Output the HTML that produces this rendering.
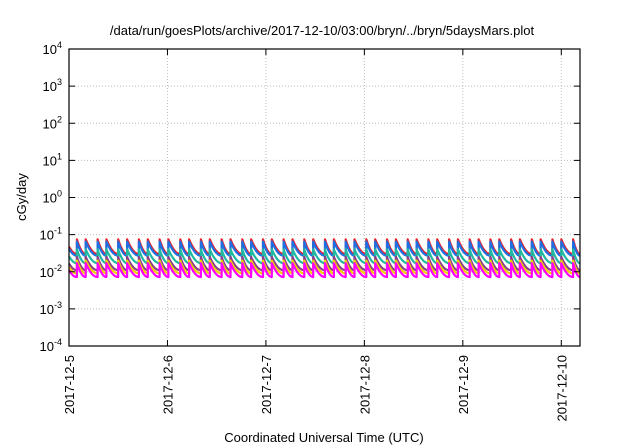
<!DOCTYPE html>
<html><head><meta charset="utf-8"><style>
body{margin:0;background:#fff;}
svg{display:block;font-family:"Liberation Sans",sans-serif;}
</style></head><body>
<svg id="chart" width="640" height="448" viewBox="0 0 640 448" xmlns="http://www.w3.org/2000/svg">
<text x="322" y="35" font-size="13" text-anchor="middle">/data/run/goesPlots/archive/2017-12-10/03:00/bryn/../bryn/5daysMars.plot</text>
<g id="grid"></g>
<g id="series"></g>
<rect x="69" y="49" width="511" height="297" fill="none" stroke="#000" stroke-width="1.2"/>
<g id="axes"></g>
<text transform="translate(26,197) rotate(-90)" font-size="13" text-anchor="middle">cGy/day</text>
<text x="324" y="442" font-size="13" text-anchor="middle">Coordinated Universal Time (UTC)</text>
</svg>
<script>
const xTickLabels=["2017-12-5","2017-12-6","2017-12-7","2017-12-8","2017-12-9","2017-12-10"];
const xTickDays=[0,1,2,3,4,5];
const yTickExps=[-4,-3,-2,-1,0,1,2,3,4];
const peakTimes=[0.08,0.17,0.29,0.38,0.50,0.59,0.71,0.80,0.92,1.01,1.13,1.22,1.34,1.43,1.55,1.64,1.76,1.85,1.97,2.06,2.18,2.27,2.39,2.48,2.60,2.69,2.81,2.90,3.02,3.11,3.23,3.32,3.44,3.53,3.65,3.74,3.86,3.95,4.07,4.16,4.28,4.37,4.49,4.58,4.70,4.79,4.91,5.00,5.12];
const seriesNames=["red","blue","teal","purple","yellow","magenta"];
const seriesColors=["#e8202a","#1f6fe0","#20b8a0","#8a3f8a","#f0d000","#ff00ff"];
const seriesPeaks=[0.075,0.065,0.04,0.025,0.02,0.017];
const seriesTroughs=[0.03,0.027,0.017,0.011,0.009,0.0072];
const X0=69,X1=580,Y0=346,Y1=49,DAYS=5.19,EMIN=-4,EMAX=4;
const xs=d=>X0+(d/DAYS)*(X1-X0);
const ys=v=>Y0-(Math.log10(v)-EMIN)/(EMAX-EMIN)*(Y0-Y1);
const NS="http://www.w3.org/2000/svg";
const grid=document.getElementById('grid'),axes=document.getElementById('axes'),ser=document.getElementById('series');
function mk(tag,attrs,parent){const e=document.createElementNS(NS,tag);for(const k in attrs)e.setAttribute(k,attrs[k]);parent.appendChild(e);return e;}
xTickDays.forEach((d,i)=>{
 const x=xs(d);
 if(i>0){const g=mk('line',{x1:x,x2:x,y1:Y1,y2:Y0,stroke:'#bbb','stroke-dasharray':'1,2','stroke-width':1},grid);
 
 }
 const t1=mk('line',{x1:x,x2:x,y1:Y0,y2:Y0-6,stroke:'#000'},axes);
 
 
 const t2=mk('line',{x1:x,x2:x,y1:Y1,y2:Y1+6,stroke:'#000'},axes);
 
 
 const lb=mk('text',{transform:`translate(${x+5},355) rotate(-90)`,'font-size':13,'text-anchor':'end'},axes);
 lb.textContent=xTickLabels[i];
 
 
});
yTickExps.forEach(e=>{
 const y=ys(Math.pow(10,e));
 if(e>EMIN&&e<EMAX){const g=mk('line',{x1:X0,x2:X1,y1:y,y2:y,stroke:'#bbb','stroke-dasharray':'1,2','stroke-width':1},grid);
 
 
 const t=mk('line',{x1:X0,x2:X0+6,y1:y,y2:y,stroke:'#000'},axes);
 
 
 const t2=mk('line',{x1:X1,x2:X1-6,y1:y,y2:y,stroke:'#000'},axes);
 
 }
 const lb=mk('text',{x:62,y:y+5,'font-size':13,'text-anchor':'end'},axes);
 lb.innerHTML=`10<tspan dy="-6" font-size="9">${e}</tspan>`;
 
 
});
seriesNames.forEach((nm,si)=>{
 const pk=seriesPeaks[si],tr=seriesTroughs[si];
 let pts=[];
 const times=[0].concat(peakTimes).concat([DAYS]);
 for(let i=0;i<times.length-1;i++){
  const a=times[i],b=times[i+1];
  const start=(i===0)?Math.sqrt(pk*tr):pk;
  if(i>0)pts.push([xs(a),ys(tr)]);
  for(let k=0;k<=8;k++){const f=k/8;const v=Math.exp(Math.log(start)+(Math.log(tr)-Math.log(start))*(1-Math.pow(1-f,2)));
   pts.push([xs(a+(b-a)*f),ys(v)]);}
 }
 const p=mk('polyline',{points:pts.map(q=>q[0].toFixed(1)+','+q[1].toFixed(1)).join(' '),fill:'none',stroke:seriesColors[si],'stroke-width':2.2,'stroke-linejoin':'round'},ser);
 
 
});
</script>
</body></html>
